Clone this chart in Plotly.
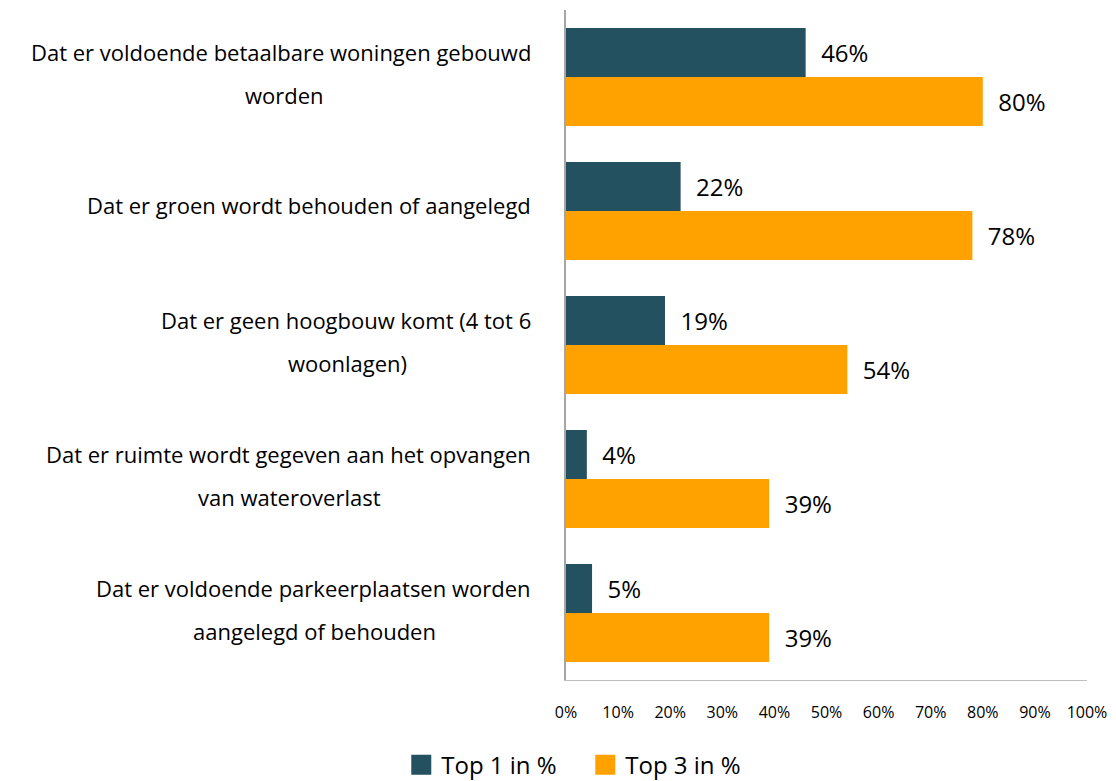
import plotly.graph_objects as go

categories = [
    "Dat er voldoende betaalbare woningen gebouwd|worden",
    "Dat er groen wordt behouden of aangelegd",
    "Dat er geen hoogbouw komt (4 tot 6|woonlagen)",
    "Dat er ruimte wordt gegeven aan het opvangen|van wateroverlast",
    "Dat er voldoende parkeerplaatsen worden|aangelegd of behouden",
]
top1 = [46, 22, 19, 4, 5]
top3 = [80, 78, 54, 39, 39]
tick_vals = [0, 10, 20, 30, 40, 50, 60, 70, 80, 90, 100]

DARK = "#24515F"
ORANGE = "#FFA200"
FONT = "Open Sans, sans-serif"

# second label line sits centred under the first: offset (px) of the first line's centre
# from the axis, measured at Open Sans 22
LINE1_HALF = [282, 0, 219, 277, 252]

keys = [f"c{i}" for i in range(len(categories))]

fig = go.Figure()
for name, vals, col in [("Top 1 in %", top1, DARK), ("Top 3 in %", top3, ORANGE)]:
    fig.add_trace(go.Bar(
        y=keys, x=vals, orientation="h", name=name,
        marker=dict(color=col, line=dict(width=0)),
        text=[f"  {v}%" for v in vals],
        textposition="outside", cliponaxis=False,
        textfont=dict(size=24, color="black", family=FONT),
        showlegend=False,
    ))
    # bigger legend swatch than the bar default (legend caps marker size, outline adds the rest)
    fig.add_trace(go.Scatter(
        x=[None], y=[None], mode="markers", name=name,
        marker=dict(symbol="square", size=16, color=col, line=dict(color=col, width=4)),
    ))

annotations = []
for k, lab, off in zip(keys, categories, LINE1_HALF):
    parts = lab.split("|")
    common = dict(xref="paper", yref="y", x=0, y=k, showarrow=False,
                  font=dict(size=22, color="black", family=FONT))
    if len(parts) == 1:
        annotations.append(dict(text=parts[0], xanchor="right", xshift=-33, yshift=6, **common))
    else:
        a, b = parts
        annotations.append(dict(text=a, xanchor="right", xshift=-33, yshift=25, **common))
        annotations.append(dict(text=b, xanchor="center", xshift=-off, yshift=-18, **common))

# page body adds an 8px offset, so the figure is 8px smaller and margins shifted
fig.update_layout(
    barmode="group", bargap=0.27, bargroupgap=0,
    width=1108, height=773,
    margin=dict(l=558, r=29, t=2, b=101, autoexpand=False),
    plot_bgcolor="white", paper_bgcolor="white",
    font=dict(family=FONT, color="black"),
    xaxis=dict(range=[0, 100], tickvals=tick_vals, ticktext=[f"{v}%" for v in tick_vals],
               showgrid=False, zeroline=False, showline=True, linecolor="#bfbfbf",
               linewidth=1, ticks="", tickfont=dict(size=16), ticklabelstandoff=18,
               automargin=False),
    yaxis=dict(autorange="reversed", showticklabels=False, showgrid=False, zeroline=False,
               showline=True, linecolor="#a6a6a6", linewidth=1.5, ticks="", automargin=False),
    legend=dict(orientation="h", x=0.037, y=-0.127,
                xanchor="center", yanchor="middle", font=dict(size=24),
                itemwidth=30, entrywidth=139, traceorder="normal"),
    annotations=annotations,
)

fig.write_html("out.html")
